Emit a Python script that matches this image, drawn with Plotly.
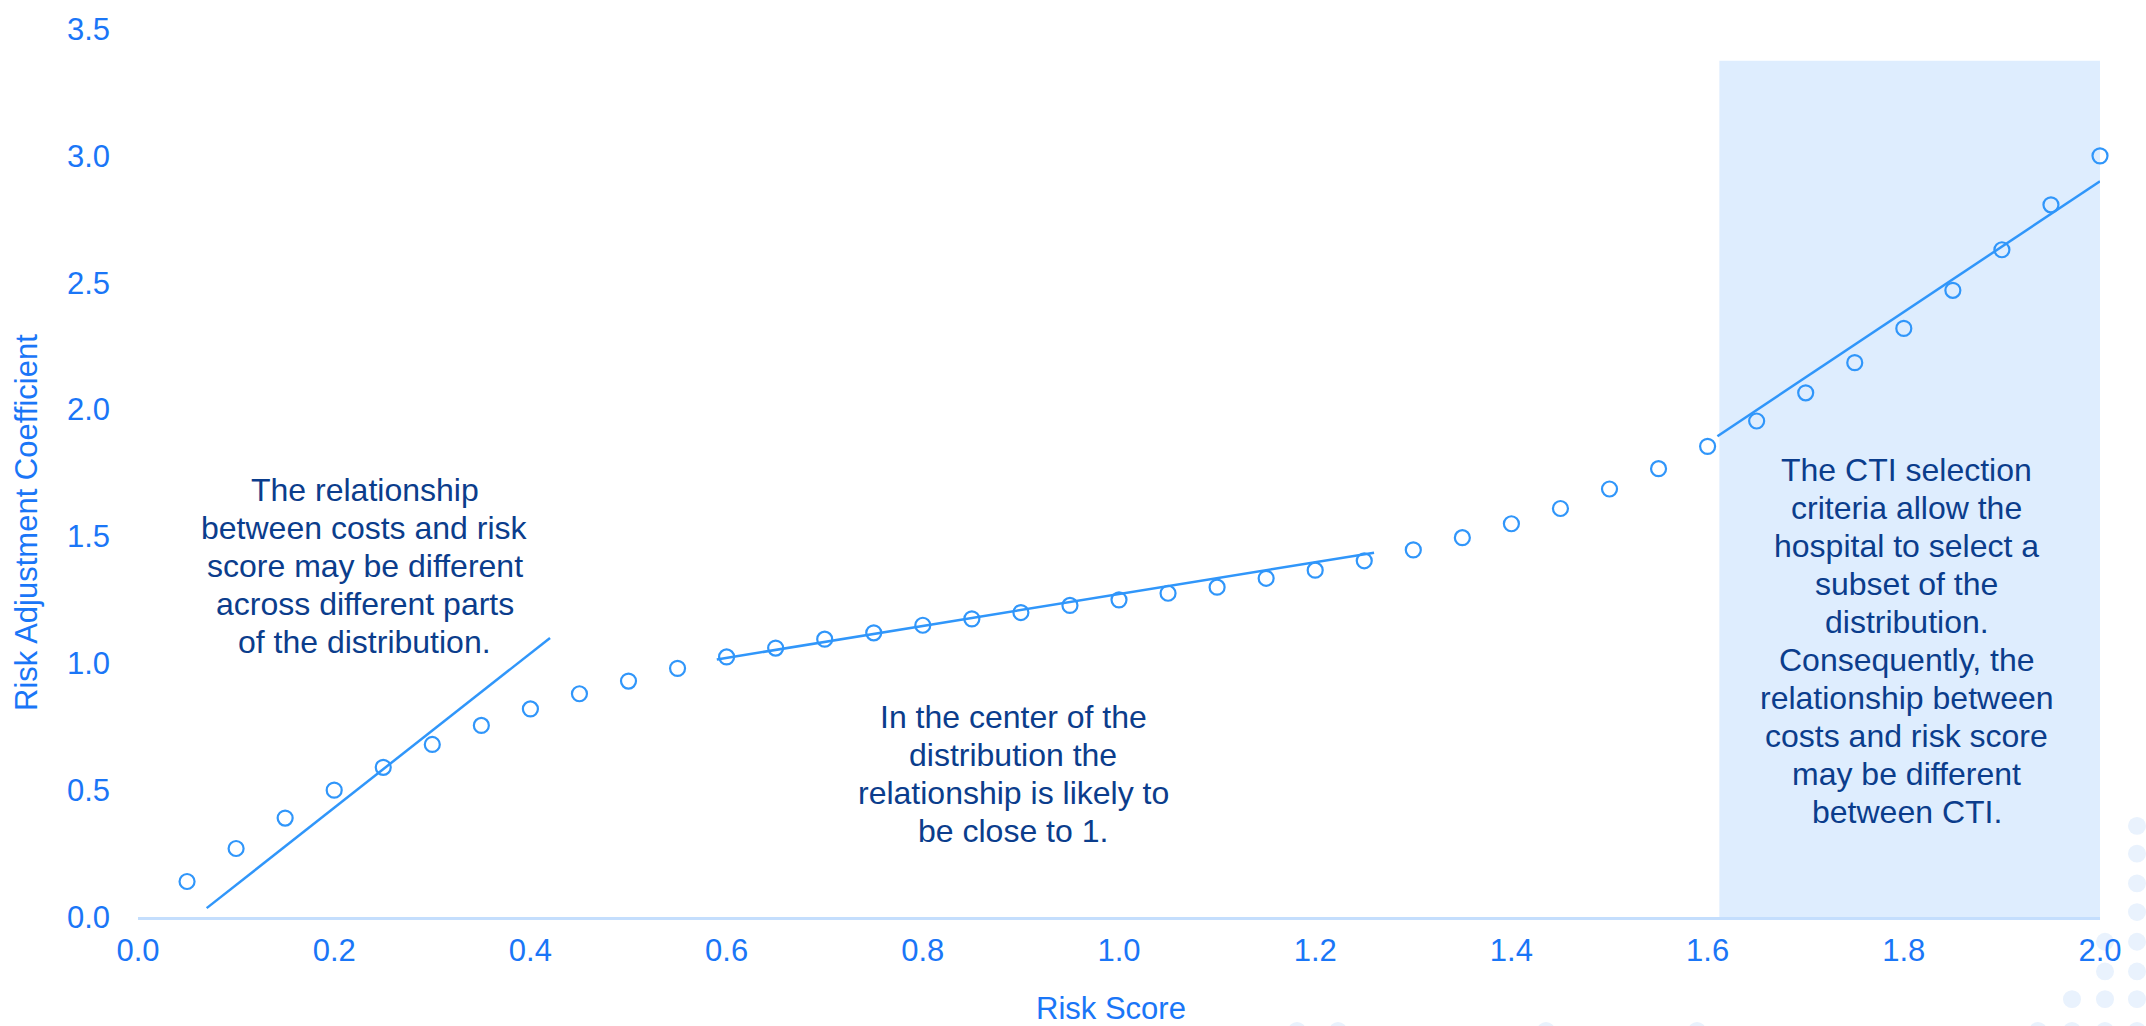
import plotly.graph_objects as go

# Risk score bins and the observed risk adjustment coefficient in each bin
risk_score = [0.05, 0.10, 0.15, 0.20, 0.25, 0.30, 0.35, 0.40, 0.45, 0.50,
              0.55, 0.60, 0.65, 0.70, 0.75, 0.80, 0.85, 0.90, 0.95, 1.00,
              1.05, 1.10, 1.15, 1.20, 1.25, 1.30, 1.35, 1.40, 1.45, 1.50,
              1.55, 1.60, 1.65, 1.70, 1.75, 1.80, 1.85, 1.90, 1.95, 2.00]
coefficient = [0.14, 0.27, 0.39, 0.50, 0.59, 0.68, 0.755, 0.82, 0.88, 0.93,
               0.98, 1.025, 1.06, 1.095, 1.12, 1.15, 1.175, 1.20, 1.228, 1.25,
               1.276, 1.30, 1.335, 1.367, 1.404, 1.447, 1.495, 1.55, 1.61, 1.687,
               1.767, 1.855, 1.955, 2.066, 2.185, 2.32, 2.47, 2.63, 2.807, 3.00]

# Local fitted lines for three parts of the distribution
fit_low_x, fit_low_y = [0.07, 0.42], [0.035, 1.10]
fit_mid_x, fit_mid_y = [0.59, 1.26], [1.015, 1.436]
fit_high_x, fit_high_y = [1.61, 2.00], [1.895, 2.90]

# Highlighted CTI subset of the distribution
cti_x = [1.612, 2.0]
cti_top = 3.375

x_ticks = [0.0, 0.2, 0.4, 0.6, 0.8, 1.0, 1.2, 1.4, 1.6, 1.8, 2.0]
y_ticks = [0.0, 0.5, 1.0, 1.5, 2.0, 2.5, 3.0, 3.5]

note_low = ["The relationship", "between costs and risk", "score may be different",
            "across different parts", "of the distribution."]
note_mid = ["In the center of the", "distribution the", "relationship is likely to",
            "be close to 1."]
note_high = ["The CTI selection", "criteria allow the", "hospital to select a",
             "subset of the", "distribution.", "Consequently, the",
             "relationship between", "costs and risk score", "may be different",
             "between CTI."]

FONT = "Liberation Sans, Arial, sans-serif"
MARK = "#3096fa"
TICK = "#1a76f7"
NAVY = "#0b3d8c"

W, H = 2146, 1026
L, R, T, B = 138, 46, 20, 109
LINE_PITCH = 38  # px between text lines of the notes

fig = go.Figure()

for fx, fy in [(fit_low_x, fit_low_y), (fit_mid_x, fit_mid_y), (fit_high_x, fit_high_y)]:
    fig.add_trace(go.Scatter(x=fx, y=fy, mode="lines",
                             line=dict(color=MARK, width=2.5),
                             hoverinfo="skip", showlegend=False))

fig.add_trace(go.Scatter(
    x=risk_score, y=coefficient, mode="markers",
    marker=dict(symbol="circle-open", size=15, color=MARK, line=dict(width=2.2, color=MARK)),
    cliponaxis=False, showlegend=False,
))

shapes = [dict(type="rect", xref="x", yref="y", x0=cti_x[0], x1=cti_x[1], y0=0, y1=cti_top,
               fillcolor="#deedfe", line=dict(width=0), layer="below")]

# faint halftone dots in the lower right corner (pixel positions)
dot_px = [(2137, 825), (2137, 853), (2137, 883), (2137, 912), (2137, 942), (2137, 972),
          (2137, 1000), (2105, 942), (2105, 972), (2105, 1000), (2072, 1000),
          (2137, 1032), (2105, 1032), (2072, 1032), (2038, 1032),
          (1697, 1032), (1546, 1032), (1338, 1032), (1297, 1032)]
pw, ph = W - L - R, H - T - B
dot_r = 9
for cx, cy in dot_px:
    shapes.append(dict(type="circle", xref="paper", yref="paper",
                       x0=(cx - dot_r - L) / pw, x1=(cx + dot_r - L) / pw,
                       y0=(H - B - cy - dot_r) / ph, y1=(H - B - cy + dot_r) / ph,
                       fillcolor="#e9f2fd", line=dict(width=0), layer="below"))

# each note is centred on a data point; its lines are stacked around it
notes = [(0.231, 1.383, note_low), (0.892, 0.562, note_mid), (1.803, 1.089, note_high)]
annotations = []
for nx, ny, lines in notes:
    n = len(lines)
    for i, line in enumerate(lines):
        annotations.append(dict(xref="x", yref="y", x=nx, y=ny, text=line, showarrow=False,
                                xanchor="center", yanchor="middle", align="center",
                                yshift=-(i - (n - 1) / 2) * LINE_PITCH,
                                font=dict(family=FONT, size=32, color=NAVY)))

annotations.append(dict(xref="paper", yref="paper", x=(27 - L) / pw, y=(H - B - 519) / ph,
                        text="Risk Adjustment Coefficient", textangle=-90, showarrow=False,
                        xanchor="center", yanchor="middle",
                        font=dict(family=FONT, size=31, color=TICK)))
annotations.append(dict(xref="paper", yref="paper", x=(1111 - L) / pw, y=(H - B - 1009) / ph,
                        text="Risk Score", showarrow=False,
                        xanchor="center", yanchor="middle",
                        font=dict(family=FONT, size=31, color=TICK)))

fig.update_layout(
    width=W, height=H,
    margin=dict(l=L, r=R, t=T, b=B),
    paper_bgcolor="white", plot_bgcolor="white",
    shapes=shapes, annotations=annotations,
    xaxis=dict(range=[0, 2.0], tickvals=x_ticks, tickformat=".1f",
               showgrid=False, zeroline=False, showline=True,
               linecolor="#c4defd", linewidth=2.5, ticks="",
               ticklabelstandoff=4, ticklabeloverflow="allow",
               tickfont=dict(family=FONT, size=31, color=TICK)),
    yaxis=dict(range=[0, 3.5], tickvals=y_ticks, tickformat=".1f",
               showgrid=False, zeroline=False, showline=False, ticks="",
               ticklabelstandoff=27, ticklabeloverflow="allow",
               tickfont=dict(family=FONT, size=31, color=TICK)),
)

fig.write_html("out.html")
